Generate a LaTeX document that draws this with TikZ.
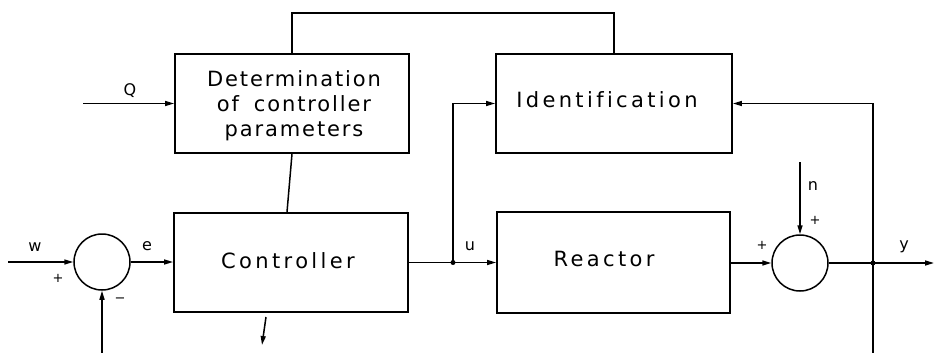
\documentclass[tikz,border=0pt]{standalone}
\usepackage{fontspec}
\setmainfont{DejaVu Sans}
\newfontfamily\detfont[LetterSpace=9,Ligatures=NoCommon]{DejaVu Sans}
\newfontfamily\blockfont[LetterSpace=16,Ligatures=NoCommon]{DejaVu Sans}
\usetikzlibrary{arrows.meta,calc}
\tikzset{
  wire/.style={line width=1.5pt},
  sig/.style={wire,-{Triangle[length=9pt,width=5pt]}},
  blockbox/.style={draw,line width=1.8pt,rectangle,inner sep=0pt},
  blocktext/.style={inner sep=0pt,font=\blockfont\fontsize{21}{25}\selectfont},
  sumnode/.style={draw,line width=1.5pt,circle,minimum size=56pt,inner sep=0pt},
  lbl/.style={font=\fontsize{16}{18}\selectfont,inner sep=0pt},
  sgn/.style={font=\fontsize{13}{14}\selectfont,inner sep=0pt},
  dot/.style={circle,fill,inner sep=0pt,minimum size=5pt}
}
\begin{document}
\begin{tikzpicture}[x=1pt,y=-1pt]
\useasboundingbox (0,0) rectangle (935,353);

% blocks
\node[blockbox,minimum width=234pt,minimum height=99pt] (det) at (292,103.5) {};
\node[inner sep=0pt,align=center,font=\detfont\fontsize{21}{25}\selectfont] (dett) at (294,106)
  {Determination\\of\hspace{0.3em} controller\\parameters};
\node[blockbox,minimum width=236pt,minimum height=99pt] (ident) at (614,103.5) {};
\node[blocktext] (identt) at (607,100) {Identification};
\node[blockbox,minimum width=234pt,minimum height=99pt] (ctrl) at (291,262.5) {};
\node[blocktext] (ctrlt) at (288,261) {Controller};
\node[blockbox,minimum width=233pt,minimum height=101pt] (reac) at (613.5,262.5) {};
\node[blocktext] (react) at (604,259) {Reactor};

% summing points
\node[sumnode] (s1) at (102,262) {};
\node[sumnode] (s2) at (800,263) {};

% free ends and branch points
\coordinate (win) at (8,262);
\coordinate (qin) at (83,103.5);
\coordinate (fb) at (102,353);
\coordinate (ju) at (453,262.5);
\coordinate (jy) at (873,263);
\coordinate (jytop) at (873,103.5);
\coordinate (jybot) at (873,353);
\coordinate (yout) at (934,263);
\coordinate (nin) at (800,162);
\coordinate (top) at (0,13);
\coordinate (pa) at (266,317);
\coordinate (pb) at (262,345);

% signal paths
\draw[sig] (win) -- (s1.west);
\draw[sig] (fb) -- (s1.south);
\draw[sig] (s1.east) -- (s1.east -| ctrl.west);
\draw[sig] (qin) -- (det.west);
\draw[wire] (ctrl.east |- ju) -- (ju);
\draw[sig] (ju) -- (ju -| reac.west);
\draw[sig] (ju) |- (ident.west);
\draw[wire] (det.north) -- (det.north |- top) -- (ident.north |- top) -- (ident.north);
\draw[wire] (det.south) -- ($(ctrl.north)+(-4,0)$);
\draw[sig] (reac.east |- s2) -- (s2.west);
\draw[sig] (nin) -- (s2.north);
\draw[wire] (s2.east) -- (jy);
\draw[sig] (jy) -- (yout);
\draw[wire] (jybot) -- (jytop);
\draw[sig] (jytop) -- (ident.east);
\draw[sig] (pa) -- (pb);

\node[dot] (dju) at (ju) {};
\node[dot] (djy) at (jy) {};

% labels
\node[lbl] (lw) at (35,247) {w};
\node[lbl] (le) at (147,246) {e};
\node[lbl] (lq) at (130,91) {Q};
\node[lbl] (lu) at (470,246) {u};
\node[lbl] (ln) at (813,186) {n};
\node[lbl] (ly) at (904,247) {y};
\node[sgn] (p1) at (58,278) {+};
\node[sgn] (m1) at (120,300) {−};
\node[sgn] (p2) at (762,245) {+};
\node[sgn] (p3) at (815,220) {+};
\end{tikzpicture}
\end{document}
